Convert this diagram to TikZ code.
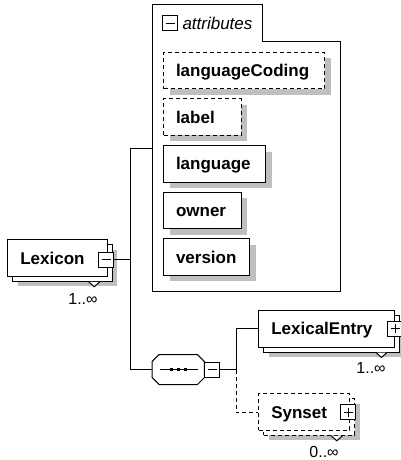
\documentclass[tikz,border=0pt]{standalone}
\usepackage{fontspec}
\setmainfont{Liberation Sans}
\usetikzlibrary{shadows}

\tikzset{
  elem/.style={draw, fill=white, text width=#1, inner xsep=12.5pt, inner ysep=0pt,
    minimum height=36.5pt, text height=14pt, text depth=2pt, align=left,
    anchor=north west, font=\bfseries\fontsize{17}{20}\selectfont},
  single/.style={general shadow={fill=black!25, shadow xshift=6pt, shadow yshift=-6pt}},
  many/.style={general shadow={fill=black!25, shadow xshift=10pt, shadow yshift=-10pt},
    copy shadow={shadow xshift=5pt, shadow yshift=-5pt, #1}},
  many/.default={},
  optional/.style={dash pattern=on 4pt off 3pt},
  pmbox/.style={draw, fill=white, minimum size=15pt, inner sep=0pt},
  pmminus/.style={pmbox, path picture={
    \draw ([xshift=3pt]path picture bounding box.west) -- ([xshift=-3pt]path picture bounding box.east);}},
  pmplus/.style={pmbox, path picture={
    \draw ([xshift=3pt]path picture bounding box.west) -- ([xshift=-3pt]path picture bounding box.east);
    \draw ([yshift=-3pt]path picture bounding box.north) -- ([yshift=3pt]path picture bounding box.south);}},
  card/.style={font=\fontsize{16}{18}\selectfont, inner sep=0pt}
}

% little notch under a repeated element
\newcommand{\notch}[1]{
  \filldraw[fill=white] ([shift={(-19pt,-5pt)}]#1.south east) -- ([shift={(-13.5pt,-10pt)}]#1.south east)
    -- ([shift={(-8pt,-5pt)}]#1.south east);
}
% outline of the sequence compositor
\newcommand{\seqoutline}{([xshift=7pt]seq.north west) -- ([xshift=-7pt]seq.north east)
  -- ([yshift=-7pt]seq.north east) -- ([yshift=7pt]seq.south east) -- ([xshift=-7pt]seq.south east)
  -- ([xshift=7pt]seq.south west) -- ([yshift=7pt]seq.south west) -- ([yshift=-7pt]seq.north west) -- cycle}

\begin{document}
\begin{tikzpicture}[x=1pt, y=-1pt, line width=1pt]
  \useasboundingbox (0,0) rectangle (401,460);

  % Attributes panel
  \draw (152.7,291) -- (152.7,4.7) -- (262.7,4.7) -- (262.7,41.7) -- (340,41.7) -- (340,291) -- cycle;
  \node[pmminus] (attrpm) at (170.3,23.3) {};
  \node[anchor=west, inner sep=0pt, font=\itshape\fontsize{17}{19}\selectfont] (attrtitle) at (182,23.5) {attributes};
  \coordinate (attrin) at (152.7,148);

  \node[elem=136pt, single, optional] (langcoding) at (163,51.7) {languageCoding};
  \node[elem=52.7pt, single, optional] (labelattr) at (163,98.3) {label};
  \node[elem=77pt, single] (language) at (163,145) {language};
  \node[elem=52.7pt, single] (owner) at (163,191.7) {owner};
  \node[elem=61.3pt, single] (version) at (163,238.3) {version};

  % Root element
  \node[elem=74.4pt, many] (lexicon) at (7.3,239.3) {Lexicon};
  \notch{lexicon}
  \node[pmminus, xshift=-1.5pt, yshift=-1.5pt] (lexiconpm) at (lexicon.east) {};
  \node[card] (lexiconcard) at (83,298.5) {1..∞};

  % Sequence
  \node[minimum width=51.3pt, minimum height=29pt, inner sep=0pt] (seq) at (178.3,369.5) {};
  \fill[black!25, xshift=6pt, yshift=-6pt] \seqoutline;
  \filldraw[fill=white] \seqoutline;
  \draw ([xshift=-18pt]seq.center) -- ([xshift=19.5pt]seq.center);
  \foreach \d in {-7,0,7}
    \fill ([xshift=\d pt]seq.center) +(-1.8pt,-1.8pt) rectangle +(1.8pt,1.8pt);
  \node[pmminus, anchor=west] (seqpm) at (seq.east) {};

  % Children of the sequence
  \node[elem=110.7pt, many] (lexentry) at (258.3,310) {LexicalEntry};
  \notch{lexentry}
  \node[pmplus] (lexentrypm) at (lexentry.east) {};
  \node[card] (lexentrycard) at (371,368.3) {1..∞};

  \node[elem=66pt, many=optional, optional] (synset) at (258.3,393.3) {Synset};
  \notch{synset}
  \node[pmplus, xshift=-2pt] (synsetpm) at (synset.east) {};
  \node[card] (synsetcard) at (324,451.7) {0..∞};

  % Connectors
  \coordinate (jtop) at (130,148);
  \coordinate (jbot) at (130,369.5);
  \coordinate (jseq) at (236,369.5);
  \draw (lexiconpm.east) -- (lexiconpm.east -| jtop);
  \draw (attrin) -- (jtop) -- (jbot) -- (seq.west);
  \draw (seqpm.east) -- (jseq);
  \draw (jseq) |- (lexentry.west);
  \draw[optional] (jseq) |- (synset.west);

\end{tikzpicture}
\end{document}
